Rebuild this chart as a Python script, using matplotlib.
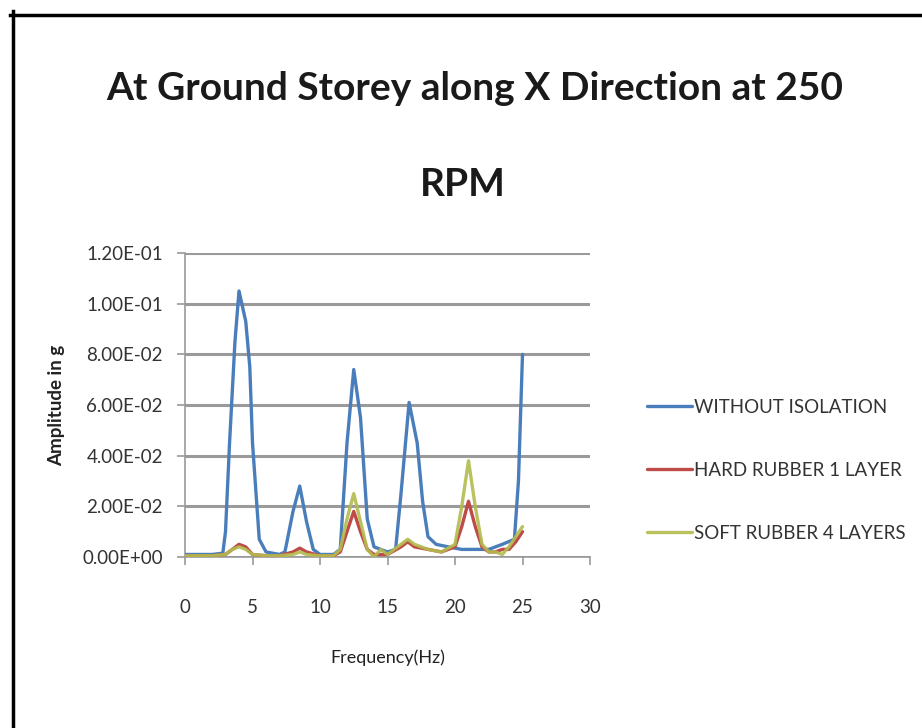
import matplotlib
matplotlib.use("Agg")
import matplotlib.pyplot as plt
from matplotlib.lines import Line2D
from matplotlib.ticker import FuncFormatter

# ---------------- data ----------------
series_names = ["WITHOUT ISOLATION", "HARD RUBBER 1 LAYER", "SOFT RUBBER 4 LAYERS"]

freq_without = [0, 1, 2, 2.8, 3.0, 3.3, 3.7, 4.0, 4.5, 4.8, 5.0, 5.5, 6.0, 7.0, 7.4,
                8.0, 8.5, 9.0, 9.5, 10.0, 11.0, 11.5, 12.0, 12.5, 13.0, 13.5, 14.0,
                15.0, 15.6, 16.0, 16.6, 17.2, 17.6, 18.0, 18.6, 19.5, 20.5, 21.5,
                22.5, 23.5, 24.4, 24.7, 25.0]
amp_without = [0.001, 0.001, 0.001, 0.0015, 0.01, 0.045, 0.085, 0.105, 0.093, 0.075,
               0.045, 0.007, 0.002, 0.001, 0.002, 0.018, 0.028, 0.014, 0.003, 0.001,
               0.001, 0.003, 0.045, 0.074, 0.055, 0.015, 0.004, 0.002, 0.003, 0.025,
               0.061, 0.045, 0.022, 0.008, 0.005, 0.004, 0.003, 0.003, 0.003, 0.005,
               0.007, 0.030, 0.080]

freq_hard = [0, 1, 2, 3, 3.5, 4.0, 4.5, 5.0, 6.0, 7.0, 8.0, 8.5, 9.0, 10, 11, 11.5,
             12.0, 12.5, 13.0, 13.5, 14, 15, 16, 16.5, 17, 18, 19, 20, 20.5, 21, 21.5,
             22, 22.5, 23, 23.5, 24, 24.5, 25]
amp_hard = [0.0005, 0.0005, 0.0005, 0.001, 0.003, 0.005, 0.004, 0.001, 0.0005, 0.0005,
            0.002, 0.0035, 0.002, 0.0005, 0.0005, 0.002, 0.010, 0.018, 0.010, 0.003,
            0.001, 0.001, 0.004, 0.006, 0.004, 0.003, 0.002, 0.004, 0.012, 0.022,
            0.012, 0.004, 0.002, 0.002, 0.003, 0.003, 0.006, 0.010]

freq_soft = [0, 1, 2, 3, 3.5, 4.0, 4.5, 5.0, 6.0, 7.0, 8.0, 8.5, 9.0, 10, 11, 11.5,
             12.0, 12.5, 13.0, 13.5, 14, 14.5, 15, 16, 16.5, 17, 18, 19, 20, 20.5, 21,
             21.5, 22, 22.5, 23, 23.5, 24, 24.5, 25]
amp_soft = [0.0005, 0.0005, 0.0005, 0.001, 0.003, 0.004, 0.003, 0.001, 0.0005, 0.0005,
            0.001, 0.002, 0.001, 0.0005, 0.0005, 0.003, 0.015, 0.025, 0.014, 0.003,
            0.0, 0.003, 0.001, 0.005, 0.007, 0.005, 0.003, 0.002, 0.005, 0.020, 0.038,
            0.020, 0.005, 0.002, 0.002, 0.001, 0.004, 0.008, 0.012]

x_ticks = [0, 5, 10, 15, 20, 25, 30]
y_ticks = [0.0, 0.02, 0.04, 0.06, 0.08, 0.10, 0.12]

colors = ["#4A7EBB", "#BE4B48", "#B3BC4E"]

# ---------------- figure ----------------
W, H = 922, 728
fig = plt.figure(figsize=(W / 100, H / 100), dpi=100)
fig.patch.set_facecolor("white")

# frame lines (top and left border)
fig.add_artist(Line2D([13 / W, 13 / W], [0, 1 - 11 / H], color="black", lw=2.5,
                      transform=fig.transFigure))
fig.add_artist(Line2D([10 / W, 1], [1 - 15 / H, 1 - 15 / H], color="black", lw=2.5,
                      transform=fig.transFigure))

left, right = 185 / W, 590 / W
bottom, top = (H - 557) / H, (H - 253) / H
ax = fig.add_axes([left, bottom, right - left, top - bottom])

line_kw = dict(lw=2.4, solid_joinstyle="round", solid_capstyle="round")
ax.plot(freq_without, amp_without, color=colors[0], label=series_names[0], zorder=3, **line_kw)
ax.plot(freq_hard, amp_hard, color=colors[1], label=series_names[1], zorder=4, **line_kw)
ax.plot(freq_soft, amp_soft, color=colors[2], label=series_names[2], zorder=5, alpha=0.9,
        **line_kw)

ax.set_xlim(0, 30)
ax.set_ylim(0, 0.12)
ax.set_xticks(x_ticks)
ax.set_yticks(y_ticks)
ax.yaxis.set_major_formatter(FuncFormatter(lambda v, p: f"{v:.2E}"))

ax.grid(axis="y", color="#9a9a9a", lw=2.2)
ax.set_axisbelow(True)
for s in ["top", "right"]:
    ax.spines[s].set_visible(False)
ax.spines["left"].set_color("#9a9a9a")
ax.spines["bottom"].set_color("#9a9a9a")
ax.spines["left"].set_linewidth(1.2)
ax.spines["bottom"].set_linewidth(1.2)
ax.tick_params(axis="both", colors="#9a9a9a", length=6, width=1.2, labelcolor="#333333",
               labelsize=13.5)
ax.tick_params(axis="x", pad=24)
ax.tick_params(axis="y", pad=10)
for lab in ax.get_xticklabels() + ax.get_yticklabels():
    lab.set_family("Lato")

ax.set_xlabel("Frequency(Hz)", fontsize=13, family="Lato", color="#222222", labelpad=24)
ax.set_ylabel("Amplitude in g", fontsize=13.5, family="Lato", fontweight="bold",
              color="#222222", labelpad=12)

fig.text(475 / W, 1 - 88 / H, "At Ground Storey along X Direction at 250", ha="center",
         va="center", fontsize=28, fontweight="bold", family="Lato", color="#1a1a1a")
fig.text(463 / W, 1 - 185 / H, "RPM", ha="center", va="center", fontsize=28,
         fontweight="bold", family="Lato", color="#1a1a1a")

leg = fig.legend(loc="upper left", bbox_to_anchor=(630 / W, 1 - 382 / H), frameon=False,
                 prop={"family": "Lato", "size": 13.5}, handlelength=2.4,
                 handletextpad=0.1, labelspacing=2.45)
for t in leg.get_texts():
    t.set_color("#333333")

fig.savefig("out.png", dpi=100, facecolor="white")
